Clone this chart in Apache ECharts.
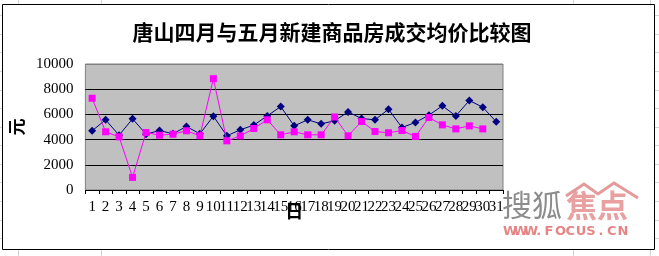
<!DOCTYPE html>
<html>
<head>
<meta charset="utf-8">
<script src="https://cdn.jsdelivr.net/npm/echarts@6/dist/echarts.min.js"></script>
<style>
html,body{margin:0;padding:0;background:#fff;}
#c{width:659px;height:256px;}
</style>
</head>
<body>
<div id="c"></div>
<script>
var titleText = '唐山四月与五月新建商品房成交均价比较图';
var days = ['1','2','3','4','5','6','7','8','9','10','11','12','13','14','15','16','17','18','19','20','21','22','23','24','25','26','27','28','29','30','31'];
var yTicks = [0, 2000, 4000, 6000, 8000, 10000];
var mayPrices = [4700,5570,4350,5650,4430,4720,4460,5040,4460,5860,4300,4780,5150,5880,6620,5090,5570,5250,5490,6200,5670,5570,6410,4960,5360,5940,6680,5880,7100,6570,5410];
var aprilPrices = [7280,4620,4220,1000,4560,4350,4430,4700,4300,8840,3900,4290,4880,5570,4380,4620,4380,4380,5800,4300,5440,4640,4540,4720,4250,5750,5170,4850,5090,4850,null];

var chart = echarts.init(document.getElementById('c'), null, {renderer:'canvas'});

var deco = [];
var cols = [18, 101, 573, 650];
cols.forEach(function(x){
  deco.push({type:'line', shape:{x1:x+0.5,y1:0,x2:x+0.5,y2:4}, style:{stroke:'#d4d4d4',lineWidth:1}, silent:true});
  deco.push({type:'line', shape:{x1:x+0.5,y1:250,x2:x+0.5,y2:256}, style:{stroke:'#d4d4d4',lineWidth:1}, silent:true});
});
var rows = [15,34,52,71,90,108,127,145,164,182,201,220,238];
rows.forEach(function(y){
  deco.push({type:'line', shape:{x1:0,y1:y+0.5,x2:2,y2:y+0.5}, style:{stroke:'#d4d4d4',lineWidth:1}, silent:true});
  deco.push({type:'line', shape:{x1:655,y1:y+0.5,x2:659,y2:y+0.5}, style:{stroke:'#d4d4d4',lineWidth:1}, silent:true});
});
var site = 'WWW.FOCUS.CN'.split('');
site.forEach(function(ch, i){
  deco.push({type:'text', x: 503 + i*10.4 + (ch === '.' ? 2 : 0), y: 225,
    style:{text: ch, font:'bold 13px "DejaVu Sans"', fill:'#e58585'}, silent:true, z:50});
});

var option = {
  animation: false,
  backgroundColor: '#ffffff',
  title: {
    text: titleText,
    left: 327, top: 17, textAlign: 'center',
    textStyle: {fontFamily: 'Noto Sans CJK SC', fontSize: 21, fontWeight: 'bold', color: '#000'}
  },
  grid: {
    left: 67, right: 156, top: 64, bottom: 66,
    show: true, backgroundColor: '#c0c0c0', borderColor: '#808080', borderWidth: 1
  },
  xAxis: {
    type: 'category',
    data: days,
    boundaryGap: true,
    name: '日', nameLocation: 'middle', nameGap: 12, nameMoveOverlap: false,
    nameTextStyle: {fontFamily: 'Noto Sans CJK SC', fontSize: 18, fontWeight: 'bold', color: '#000'},
    axisLine: {show: true, lineStyle: {color: '#000', width: 1}},
    axisTick: {show: true, interval: 0, length: 4, inside: false, lineStyle: {color: '#000'}},
    axisLabel: {interval: 0, margin: 10, fontFamily: 'Liberation Serif', fontSize: 15, color: '#000'},
    splitLine: {show: false}
  },
  yAxis: {
    type: 'value',
    min: yTicks[0], max: yTicks[yTicks.length-1], interval: 2000,
    name: '元', nameLocation: 'middle', nameGap: 48, nameRotate: 90,
    nameTextStyle: {fontFamily: 'Noto Sans CJK SC', fontSize: 17, fontWeight: 'bold', color: '#000'},
    axisLine: {show: false},
    axisTick: {show: false},
    axisLabel: {margin: 12, fontFamily: 'Liberation Serif', fontSize: 15, color: '#000',
      formatter: function(v){ return String(v); }},
    splitLine: {show: true, lineStyle: {color: ['#000','#000','#000','#000','#000','#808080'], width: 1}}
  },
  series: [
    {
      name: '五月', type: 'line', data: mayPrices,
      symbol: 'diamond', symbolSize: 8,
      lineStyle: {color: '#000080', width: 1},
      itemStyle: {color: '#000080'},
      z: 3
    },
    {
      name: '四月', type: 'line', data: aprilPrices,
      symbol: 'rect', symbolSize: 7,
      lineStyle: {color: '#ff00ff', width: 1},
      itemStyle: {color: '#ff00ff'},
      z: 4
    }
  ],
  graphic: deco.concat([
    {type:'rect', shape:{x:2.5,y:4.5,width:652,height:245}, style:{fill:null, stroke:'#000', lineWidth:1}, silent:true, z:100},
    {type:'text', x:502, y:190, style:{text:'搜狐', font:'30px "Noto Sans CJK SC"', fill:'#8c8c8c'}, silent:true, z:50},
    {type:'polyline', shape:{points:[[566,196],[584,184],[598,194],[614,183],[638,198]]}, style:{stroke:'#e49a9a', lineWidth:3, fill:null}, silent:true, z:50},
    {type:'text', x:566, y:190, style:{text:'焦点', font:'bold 31px "Noto Sans CJK SC"', fill:'#e9a0a0'}, silent:true, z:49}
  ])
};
chart.setOption(option);
</script>
</body>
</html>
